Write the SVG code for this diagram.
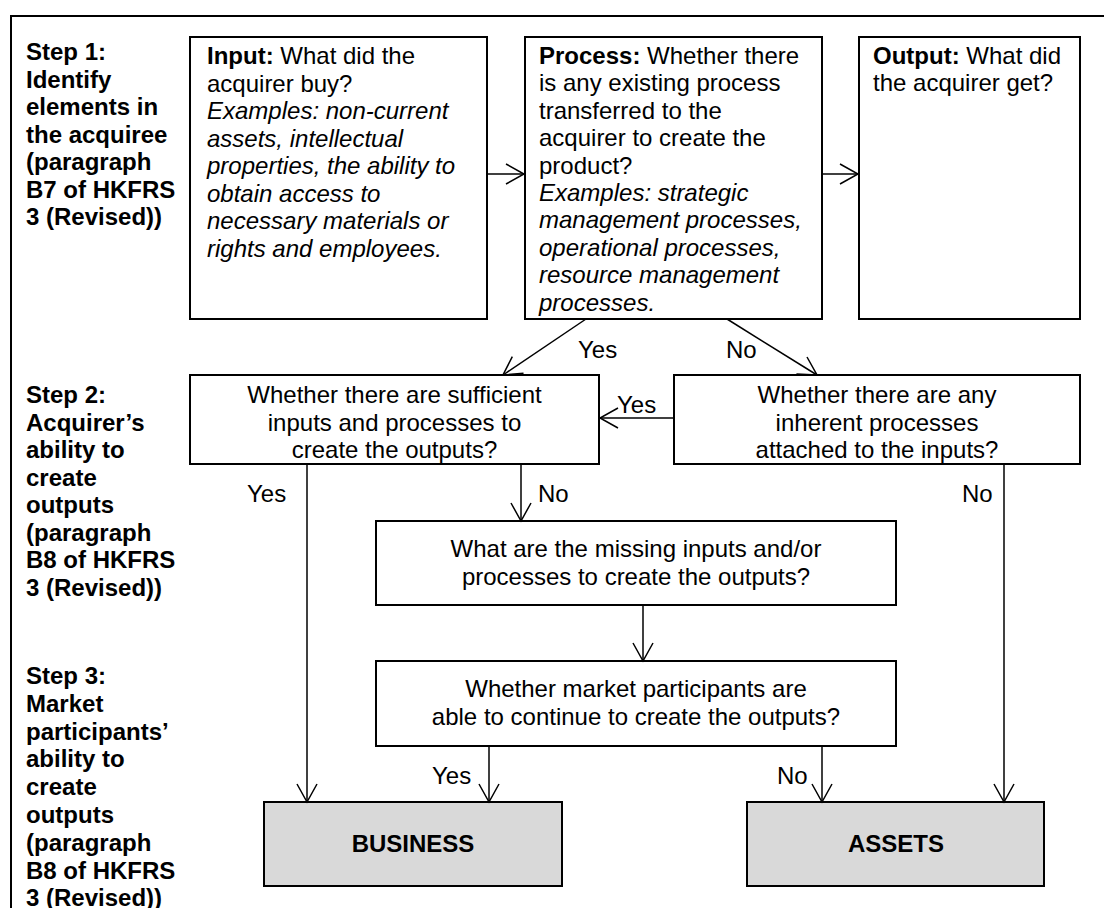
<svg xmlns="http://www.w3.org/2000/svg" width="1104" height="908" viewBox="0 0 1104 908">
<defs>
<style>
text{font-family:"Liberation Sans",Arial,sans-serif;font-size:24px;fill:#000}
.b{font-weight:bold}
.i{font-style:italic}
.box{fill:#fff;stroke:#000;stroke-width:2}
.res{fill:#d9d9d9;stroke:#000;stroke-width:2}
.c{fill:none;stroke:#000;stroke-width:1.5;marker-end:url(#ah)}
.m{text-anchor:middle}
</style>
<marker id="ah" markerUnits="userSpaceOnUse" viewBox="-20 -12 22 24" refX="0" refY="0" markerWidth="22" markerHeight="24" orient="auto" overflow="visible">
<path d="M-18,-10 L0,0 L-18,10" fill="none" stroke="#000" stroke-width="1.5"/>
</marker>
</defs>
<rect width="1104" height="908" fill="#fff"/>
<rect x="11" y="16" width="1110" height="920" fill="none" stroke="#000" stroke-width="2"/>

<g id="step-labels" class="b">
<text class="b" x="26" y="60">Step 1:</text>
<text class="b" x="26" y="87.5">Identify</text>
<text class="b" x="26" y="115">elements in</text>
<text class="b" x="26" y="142.5">the acquiree</text>
<text class="b" x="26" y="170">(paragraph</text>
<text class="b" x="26" y="197.5">B7 of HKFRS</text>
<text class="b" x="26" y="225">3 (Revised))</text>

<text class="b" x="26" y="403">Step 2:</text>
<text class="b" x="26" y="430.5">Acquirer’s</text>
<text class="b" x="26" y="458">ability to</text>
<text class="b" x="26" y="485.5">create</text>
<text class="b" x="26" y="513">outputs</text>
<text class="b" x="26" y="540.5">(paragraph</text>
<text class="b" x="26" y="568">B8 of HKFRS</text>
<text class="b" x="26" y="595.5">3 (Revised))</text>

<text class="b" x="26" y="684">Step 3:</text>
<text class="b" x="26" y="711.8">Market</text>
<text class="b" x="26" y="739.6">participants’</text>
<text class="b" x="26" y="767.4">ability to</text>
<text class="b" x="26" y="795.2">create</text>
<text class="b" x="26" y="823">outputs</text>
<text class="b" x="26" y="850.8">(paragraph</text>
<text class="b" x="26" y="878.6">B8 of HKFRS</text>
<text class="b" x="26" y="906.4">3 (Revised))</text>
</g>

<g id="input">
<rect class="box" x="190" y="37" width="297" height="282"/>
<text x="207" y="64"><tspan class="b">Input:</tspan> What did the</text>
<text x="207" y="91.5">acquirer buy?</text>
<text class="i" x="207" y="119">Examples: non-current</text>
<text class="i" x="207" y="146.5">assets, intellectual</text>
<text class="i" x="207" y="174">properties, the ability to</text>
<text class="i" x="207" y="201.5">obtain access to</text>
<text class="i" x="207" y="229">necessary materials or</text>
<text class="i" x="207" y="256.5">rights and employees.</text>
</g>

<g id="process">
<rect class="box" x="525" y="37" width="297" height="282"/>
<text x="539" y="64"><tspan class="b">Process:</tspan> Whether there</text>
<text x="539" y="91.4">is any existing process</text>
<text x="539" y="118.8">transferred to the</text>
<text x="539" y="146.2">acquirer to create the</text>
<text x="539" y="173.6">product?</text>
<text class="i" x="539" y="201">Examples: strategic</text>
<text class="i" x="539" y="228.4">management processes,</text>
<text class="i" x="539" y="255.8">operational processes,</text>
<text class="i" x="539" y="283.2">resource management</text>
<text class="i" x="539" y="310.6">processes.</text>
</g>

<g id="output">
<rect class="box" x="859" y="37" width="221" height="282"/>
<text x="873" y="64"><tspan class="b">Output:</tspan> What did</text>
<text x="873" y="91.4">the acquirer get?</text>
</g>

<g id="sufficient">
<rect class="box" x="190" y="375" width="409" height="89"/>
<text class="m" x="394.5" y="403">Whether there are sufficient</text>
<text class="m" x="394.5" y="430.5">inputs and processes to</text>
<text class="m" x="394.5" y="458">create the outputs?</text>
</g>

<g id="inherent">
<rect class="box" x="674" y="375" width="406" height="89"/>
<text class="m" x="877" y="403">Whether there are any</text>
<text class="m" x="877" y="430.5">inherent processes</text>
<text class="m" x="877" y="458">attached to the inputs?</text>
</g>

<g id="missing">
<rect class="box" x="376" y="521" width="520" height="84"/>
<text class="m" x="636" y="557">What are the missing inputs and/or</text>
<text class="m" x="636" y="584.5">processes to create the outputs?</text>
</g>

<g id="market">
<rect class="box" x="376" y="661" width="520" height="85"/>
<text class="m" x="636" y="697">Whether market participants are</text>
<text class="m" x="636" y="724.5">able to continue to create the outputs?</text>
</g>

<g id="business">
<rect class="res" x="264" y="802" width="298" height="84"/>
<text class="b m" x="413" y="852">BUSINESS</text>
</g>

<g id="assets">
<rect class="res" x="747" y="802" width="297" height="84"/>
<text class="b m" x="896" y="852">ASSETS</text>
</g>

<g id="connectors">
<path class="c" d="M487,174 L524,174"/>
<path class="c" d="M822,174 L858,174"/>
<path class="c" d="M586,319 L503,375"/>
<path class="c" d="M727,319 L817,375"/>
<path class="c" d="M674,418 L600,418"/>
<path class="c" d="M307,464 L307,802"/>
<path class="c" d="M521,464 L521,521"/>
<path class="c" d="M1004,464 L1004,802"/>
<path class="c" d="M643,605 L643,661"/>
<path class="c" d="M489,746 L489,802"/>
<path class="c" d="M822,746 L822,802"/>
</g>

<g id="connector-labels">
<text x="578" y="358">Yes</text>
<text x="726" y="358">No</text>
<text x="617" y="413">Yes</text>
<text x="247" y="502">Yes</text>
<text x="538" y="502">No</text>
<text x="962" y="502">No</text>
<text x="432" y="784">Yes</text>
<text x="777" y="784">No</text>
</g>
</svg>
